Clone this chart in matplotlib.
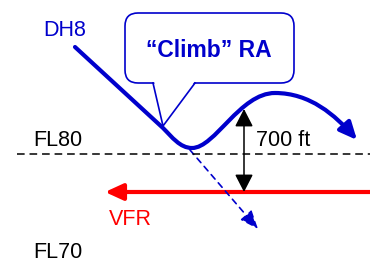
import matplotlib
matplotlib.use('Agg')
import matplotlib.pyplot as plt
from matplotlib.path import Path
from matplotlib.patches import FancyArrowPatch, FancyBboxPatch, Polygon

plt.rcParams['font.family'] = ['Liberation Sans', 'DejaVu Sans']

BLUE = '#0000cc'
RED = '#ff0000'

# DH8 track: straight descent, then the climb manoeuvre (pixel coords, y down)
track_verts = [(75, 47), (163, 128),
               (172, 137), (180, 148), (192, 148),
               (215, 148), (240, 93), (275, 93),
               (310, 93), (335, 115), (357, 140)]
track_codes = [Path.MOVETO, Path.LINETO] + [Path.CURVE4] * 9

# path DH8 would have kept without the RA
old_start = (190, 150)
old_end = (258, 229)

fl80_y = 154
vfr_y = 192
vfr_x = (370, 105)
sep_x = 244
sep_top = 109

labels = [('DH8', 43, 36, BLUE), ('FL80', 33, 146, 'black'),
          ('FL70', 33, 258, 'black'), ('700 ft', 256, 146, 'black'),
          ('VFR', 109, 225, RED)]

fig = plt.figure(figsize=(3.7, 2.62), dpi=100)
ax = fig.add_axes([0, 0, 1, 1])
ax.set_xlim(0, 370)
ax.set_ylim(262, 0)
ax.axis('off')

# flight level line
ax.plot([17, 370], [fl80_y, fl80_y], color='black', lw=1.1, ls=(0, (5, 3.2)))

# VFR traffic
ax.add_patch(FancyArrowPatch((vfr_x[0], vfr_y), (vfr_x[1], vfr_y),
                             arrowstyle='-|>,head_length=0.72,head_width=0.33',
                             mutation_scale=15, color=RED, lw=3, shrinkA=0, shrinkB=0))

# original descent (dashed)
ax.add_patch(FancyArrowPatch(old_start, old_end,
                             arrowstyle='-|>,head_length=0.8,head_width=0.32',
                             mutation_scale=14, color=BLUE, lw=1.2, ls=(0, (3.5, 3)),
                             shrinkA=0, shrinkB=0))

# separation arrow
ax.add_patch(FancyArrowPatch((sep_x, sep_top), (sep_x, vfr_y),
                             arrowstyle='<|-|>,head_length=0.72,head_width=0.37',
                             mutation_scale=15, color='black', lw=1.1,
                             shrinkA=0, shrinkB=0))

# DH8 track
ax.add_patch(FancyArrowPatch(path=Path(track_verts, track_codes),
                             arrowstyle='-|>,head_length=0.7,head_width=0.32',
                             mutation_scale=15, color=BLUE, lw=3))

# speech bubble
ax.add_patch(FancyBboxPatch((125, 13), 169, 70, boxstyle='round,pad=0,rounding_size=13',
                            fc='white', ec=BLUE, lw=1.2))
ax.add_patch(Polygon([(154, 81), (163, 126), (195, 81)], closed=True, fc='white', ec='none'))
ax.plot([153, 163, 195], [83, 126, 83], color=BLUE, lw=1.2, solid_joinstyle='miter')
ax.text(209, 57, '\u201cClimb\u201d RA', ha='center', va='baseline', fontsize=16.5,
        fontweight='bold', color=BLUE)

for txt, x, y, c in labels:
    ax.text(x, y, txt, ha='left', va='baseline', fontsize=15.5, color=c)

fig.savefig('out.png', dpi=100)
